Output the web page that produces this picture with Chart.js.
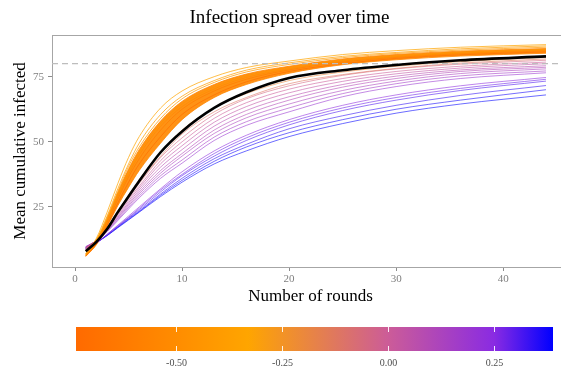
<!DOCTYPE html>
<html>
<head>
<meta charset="utf-8">
<script src="https://cdn.jsdelivr.net/npm/chart.js@4.4.1/dist/chart.umd.min.js"></script>
<style>
  html, body { margin: 0; padding: 0; background: #fff; overflow: hidden; }
  #wrap { position: relative; width: 561px; height: 370px; overflow: hidden; }
</style>
</head>
<body>
<div id="wrap"><canvas id="spreadChart" width="570" height="370"></canvas></div>
<script>
/* Infection spread over time — simulated runs coloured by parameter */

const rounds = [1, 2, 3, 4, 5, 6, 8, 10, 13, 16, 20, 25, 30, 36, 44];
const xTicks = [0, 10, 20, 30, 40];
const yTicks = [25, 50, 75];
const targetLevel = 80;

// colour scale
const paletteValues = [-0.736, -0.33, 0.0, 0.25, 0.389];
const paletteColors = ['#FF6A00', '#FFA500', '#CC5C98', '#8A2BE2', '#0000FF'];
const colorbarTicks = [-0.5, -0.25, 0, 0.25];
const colorbarLabels = ['-0.50', '-0.25', '0.00', '0.25'];

// dense orange band of runs (outer envelope)
const bandParam = -0.55;
const bandUpper = [6.5, 12, 20.5, 30.5, 39.5, 47, 58, 65.5, 72, 76, 79, 81.8, 83.5, 84.8, 85.8];
const bandLower = [6, 10.5, 17.5, 25.5, 32.5, 39, 49.5, 58.5, 67, 72, 76.3, 79.6, 81.5, 82.9, 84];

// individual runs
const runParams = [
  -0.33, -0.38, -0.42, -0.45, -0.5, -0.6, -0.7,
  -0.2, -0.12,
  -0.05, 0.0, 0.04, 0.08, 0.1, 0.13, 0.16, 0.19,
  0.24, 0.28, 0.31, 0.34, 0.37, 0.39,
];
const runCurves = [
  [7, 13, 23, 34, 44, 52, 63, 69.5, 75, 78.5, 81, 83.5, 85, 86.3, 87.3],
  [7, 12.5, 21.5, 32, 41.5, 49.5, 60.5, 67.5, 73.5, 77.5, 80.3, 82.8, 84.3, 85.7, 86.8],
  [6.8, 12.2, 21, 31, 40.5, 48, 59, 66.5, 72.8, 76.8, 79.7, 82.3, 83.9, 85.2, 86.3],
  [6.5, 11.8, 20, 29.5, 38.5, 46, 57, 64.5, 71, 75.3, 78.5, 81.3, 83, 84.4, 85.5],
  [6.4, 11.5, 19.5, 29, 37.5, 45, 56, 63.5, 70.3, 74.7, 78, 81, 82.7, 84, 85.2],
  [6.3, 11.3, 19, 28, 36.5, 43.5, 54.5, 62.5, 69.5, 74, 77.6, 80.6, 82.4, 83.8, 84.9],
  [6.1, 10.8, 18, 26.5, 34.5, 41.5, 52, 60.5, 68, 73, 77, 80, 82, 83.4, 84.5],
  [8.5, 12, 17, 23.5, 29.5, 35.5, 46, 54.5, 63, 68.5, 73.5, 76.8, 79, 80.8, 82.4],
  [9, 12.3, 17, 23, 29, 34.5, 44.5, 53, 61.5, 67, 72.3, 75.8, 78.2, 80.2, 81.8],
  [9, 12.2, 17, 23, 28.5, 34, 44, 51.5, 60.5, 66.5, 71.5, 75.5, 78, 79.8, 81.3],
  [9.2, 12.2, 16.8, 22.5, 28, 33, 42.8, 50, 59, 65, 70.2, 74.3, 77, 79, 80.6],
  [9.3, 12.2, 16.6, 22, 27.3, 32.3, 41.6, 48.5, 57.5, 63.5, 68.8, 73.2, 76.1, 78.3, 80],
  [9.5, 12.2, 16.4, 21.5, 26.6, 31.5, 40.3, 47, 56, 62, 67.3, 72, 75.2, 77.6, 79.2],
  [9.5, 12.2, 16.2, 21, 26, 30.7, 39, 45.5, 54.5, 60.5, 66, 71, 74.3, 77, 78.6],
  [9.6, 12.1, 16, 20.7, 25.4, 30, 38, 44.5, 53.2, 59.2, 64.5, 69.7, 73.3, 76.2, 78],
  [9.7, 12, 15.7, 20.2, 24.8, 29.2, 37, 43, 51.8, 57.7, 63, 68.5, 72.3, 75.3, 77.2],
  [9.8, 12, 15.5, 19.8, 24.2, 28.5, 36, 41.8, 50.5, 56.3, 61.5, 67.3, 71.2, 74.3, 76.5],
  [8.5, 11, 14.5, 18, 21.5, 25, 32, 38.5, 46.5, 52.5, 58.5, 64, 68, 71.5, 74.7],
  [9, 11.2, 14.5, 17.8, 21, 24.5, 31.5, 37.5, 45.5, 51.5, 57.5, 63, 67, 70.5, 74],
  [9, 11.2, 14.2, 17.5, 20.8, 24, 30.8, 37, 44.5, 50.5, 56.5, 62, 66, 69.7, 73.3],
  [9.2, 11.3, 14.2, 17.3, 20.5, 23.5, 30, 36, 43.5, 49, 55, 60, 64, 67.8, 71.6],
  [9.3, 11.4, 14, 17.2, 20.2, 23.2, 29.5, 35.2, 42.5, 48, 53.5, 58.5, 62.5, 66, 70],
  [9.5, 11.5, 14, 17, 20, 23, 29, 34.5, 41.5, 46.5, 52, 57, 61, 64.5, 68],
];

// mean over all runs
const meanCurve = [8, 11.6, 16.5, 23, 29, 35, 46, 54, 63, 69, 74.5, 77.5, 79.5, 81.3, 82.8];

const SERIF = '"Liberation Serif", "DejaVu Serif", serif';

function hexToRgb(h) {
  const n = parseInt(h.slice(1), 16);
  return [(n >> 16) & 255, (n >> 8) & 255, n & 255];
}

function paletteAt(v, alpha) {
  let i = 0;
  while (i < paletteValues.length - 2 && v > paletteValues[i + 1]) i++;
  const t = Math.min(1, Math.max(0, (v - paletteValues[i]) / (paletteValues[i + 1] - paletteValues[i])));
  const a = hexToRgb(paletteColors[i]);
  const b = hexToRgb(paletteColors[i + 1]);
  const c = a.map((x, k) => Math.round(x + (b[k] - x) * t));
  return `rgba(${c[0]},${c[1]},${c[2]},${alpha})`;
}

const toPoints = ys => rounds.map((x, i) => ({ x, y: ys[i] }));

const datasets = [
  {
    data: toPoints(meanCurve),
    borderColor: '#000',
    borderWidth: 2.6,
    order: 0,
  },
  {
    data: [{ x: -2.15, y: targetLevel }, { x: 46.15, y: targetLevel }],
    borderColor: '#bdbdbd',
    borderWidth: 1.2,
    borderDash: [6, 4],
    cubicInterpolationMode: 'default',
    tension: 0,
    order: 1,
  },
  {
    data: toPoints(bandUpper),
    borderColor: paletteAt(bandParam, 0.8),
    borderWidth: 1,
    order: 30,
  },
  {
    data: toPoints(bandLower),
    borderColor: paletteAt(bandParam, 0.8),
    backgroundColor: 'rgba(255,140,8,0.95)',
    fill: '-1',
    borderWidth: 1,
    order: 30,
  },
];

runParams.forEach((p, i) => {
  datasets.push({
    data: toPoints(runCurves[i]),
    borderColor: paletteAt(p, p < -0.3 ? 0.72 : 0.58),
    borderWidth: 1,
    order: 2 + i,
  });
});

// ─── Panel top edge, title and colour bar ─────────────────
const decorPlugin = {
  id: 'decor',
  afterDraw(chart) {
    const { ctx, chartArea } = chart;
    ctx.save();

    ctx.strokeStyle = '#a6a6a6';
    ctx.lineWidth = 1;
    ctx.beginPath();
    ctx.moveTo(chartArea.left, chartArea.top + 0.5);
    ctx.lineTo(chartArea.right, chartArea.top + 0.5);
    ctx.stroke();

    ctx.fillStyle = '#000';
    ctx.font = `19px ${SERIF}`;
    ctx.textAlign = 'center';
    ctx.textBaseline = 'alphabetic';
    ctx.fillText('Infection spread over time', 289.5, 22.5);

    // colour bar
    const bx0 = 76, bx1 = 553, by0 = 327, by1 = 351;
    const lo = paletteValues[0], hi = paletteValues[paletteValues.length - 1];
    const grad = ctx.createLinearGradient(bx0, 0, bx1, 0);
    paletteValues.forEach((v, i) => grad.addColorStop((v - lo) / (hi - lo), paletteColors[i]));
    ctx.fillStyle = grad;
    ctx.fillRect(bx0, by0, bx1 - bx0, by1 - by0);

    ctx.strokeStyle = 'rgba(255,255,255,0.9)';
    ctx.lineWidth = 1;
    ctx.fillStyle = '#4d4d4d';
    ctx.font = `10px ${SERIF}`;
    ctx.textBaseline = 'middle';
    colorbarTicks.forEach((v, i) => {
      const px = Math.round(bx0 + (v - lo) / (hi - lo) * (bx1 - bx0)) + 0.5;
      ctx.beginPath();
      ctx.moveTo(px, by0); ctx.lineTo(px, by0 + 5);
      ctx.moveTo(px, by1 - 5); ctx.lineTo(px, by1);
      ctx.stroke();
      ctx.fillText(colorbarLabels[i], px, 363);
    });

    ctx.restore();
  },
};

new Chart(document.getElementById('spreadChart'), {
  type: 'line',
  data: { datasets },
  plugins: [decorPlugin],
  options: {
    responsive: false,
    animation: false,
    devicePixelRatio: 1,
    layout: { padding: { top: 35, right: 1, bottom: 63, left: 0 } },
    elements: {
      point: { radius: 0 },
      line: { cubicInterpolationMode: 'monotone', fill: false },
    },
    plugins: {
      legend: { display: false },
      tooltip: { enabled: false },
      title: { display: false },
    },
    scales: {
      x: {
        type: 'linear',
        min: -2.15,
        max: 46.15,
        afterBuildTicks: s => { s.ticks = xTicks.map(v => ({ value: v })); },
        afterFit: s => { s.height = 40; },
        ticks: { color: '#808080', font: { family: SERIF, size: 11 }, padding: 2, maxRotation: 0, callback: v => String(v) },
        grid: { drawOnChartArea: false, tickLength: 4, color: '#8c8c8c' },
        border: { color: '#a6a6a6', width: 1 },
        title: { display: true, text: 'Number of rounds', color: '#000', font: { family: SERIF, size: 17 }, padding: 0 },
      },
      y: {
        type: 'linear',
        min: 1.95,
        max: 91,
        afterBuildTicks: s => { s.ticks = yTicks.map(v => ({ value: v })); },
        afterFit: s => { s.width = 52; },
        ticks: { color: '#808080', font: { family: SERIF, size: 11 }, padding: 4, callback: v => String(v) },
        grid: { drawOnChartArea: false, tickLength: 4, color: '#8c8c8c' },
        border: { color: '#a6a6a6', width: 1 },
        title: { display: true, text: 'Mean cumulative infected', color: '#000', font: { family: SERIF, size: 17 }, padding: { top: 10 } },
      },
    },
  },
});
</script>
</body>
</html>
